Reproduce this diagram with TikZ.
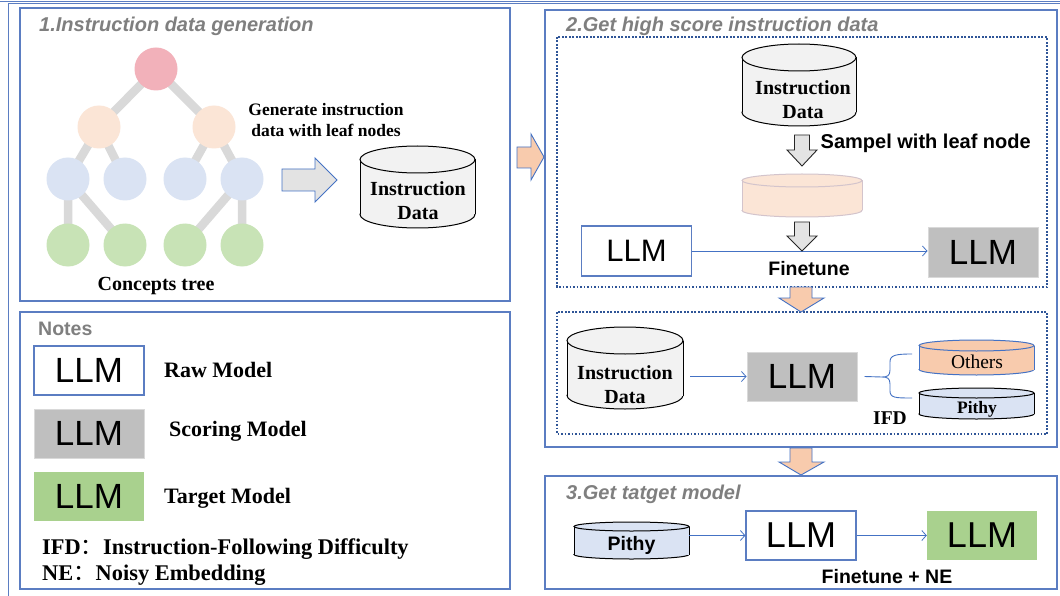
\documentclass[tikz,border=0pt]{standalone}
\usepackage{fontspec}
\setmainfont{Liberation Serif}
\setsansfont{Liberation Sans}
\newfontfamily\cjkfont{Noto Sans CJK SC}
\usetikzlibrary{arrows.meta,backgrounds}
\definecolor{frameblue}{HTML}{5B7DC2}
\definecolor{dotblue}{HTML}{2F5597}
\definecolor{connblue}{HTML}{4472C4}
\definecolor{titlegray}{HTML}{7F7F7F}
\definecolor{scoregray}{HTML}{BFBFBF}
\definecolor{targetgreen}{HTML}{A9D18E}
\definecolor{cylgray}{HTML}{F2F2F2}
\definecolor{arrgray}{HTML}{E3E3E3}
\definecolor{orangefill}{HTML}{F8CBAD}
\definecolor{lightorange}{HTML}{FBE5D6}
\definecolor{lightblue}{HTML}{DAE3F3}
\definecolor{treered}{HTML}{F2B1BA}
\definecolor{treegreen}{HTML}{C8E3B6}
\definecolor{edgegray}{HTML}{D9D9D9}
\definecolor{flatline}{HTML}{D3C4CC}

\newcommand{\dbcyl}[8]{% name, left, top, right, bottom, ry, fill, draw
  \filldraw[fill=#7,draw=#8,line width=1pt] ({(#2+#4)/2},#5-#6) ellipse [x radius={(#4-#2)/2}, y radius=#6];
  \fill[#7] (#2,#3+#6) rectangle (#4,#5-#6);
  \draw[#8,line width=1pt] (#2,#3+#6) -- (#2,#5-#6) (#4,#3+#6) -- (#4,#5-#6);
  \filldraw[fill=#7,draw=#8,line width=1pt] ({(#2+#4)/2},#3+#6) ellipse [x radius={(#4-#2)/2}, y radius=#6];
  \node[inner sep=0pt, minimum width={#4-#2}, minimum height={#5-#3}] (#1) at ({(#2+#4)/2},{(#3+#5)/2}) {};
}

\begin{document}
\begin{tikzpicture}[x=1pt,y=-1pt,
  frame/.style={draw=frameblue, line width=1.3pt},
  dotframe/.style={draw=dotblue, line width=1.8pt, dash pattern=on 1.8pt off 1.7pt},
  ttl/.style={anchor=base west, inner sep=0pt, text=titlegray, font=\sffamily\bfseries\itshape\fontsize{20}{24}\selectfont},
  llm/.style={minimum width=110pt, minimum height=49pt, inner sep=0pt, font=\sffamily\fontsize{35}{35}\selectfont},
  rawm/.style={llm, draw=frameblue, line width=1.2pt, fill=white},
  scorem/.style={llm, fill=scoregray, draw=scoregray!60!white, line width=1pt},
  targetm/.style={llm, fill=targetgreen},
  serifb/.style={inner sep=0pt, font=\bfseries\fontsize{#1}{#1}\selectfont},
  sansb/.style={inner sep=0pt, font=\sffamily\bfseries\fontsize{#1}{#1}\selectfont},
  tnode/.style={circle, minimum size=43pt, inner sep=0pt},
  tedge/.style={draw=edgegray, line width=8.5pt},
  grayarrow/.style={fill=arrgray, draw=black!85, line width=0.9pt, line join=miter},
  orangearrow/.style={fill=orangefill, draw=connblue, line width=0.9pt, line join=miter},
  conn/.style={draw=connblue, line width=0.8pt, -{Straight Barb[length=4.5pt,width=10pt]}},
  brace/.style={draw=connblue, line width=0.9pt}
]
\useasboundingbox (0,0) rectangle (1060,596);

% outer frame remnants
\draw[frameblue, line width=0.8pt] (0,1) -- (1060,1);
\draw[frameblue, line width=0.8pt] (8,3.5) -- (1060,3.5);
\draw[frameblue, line width=1pt] (8,3.5) -- (8,596);

% ---------- box 1 ----------
\draw[frame] (20,8) rectangle (510,301);
\node[ttl] (t1) at (39,31.5) {1.Instruction data generation};

\node[tnode, fill=treered] (r) at (156,69) {};
\node[tnode, fill=lightorange] (o1) at (99,127) {};
\node[tnode, fill=lightorange] (o2) at (214,127) {};
\node[tnode, fill=lightblue] (b1) at (68,179) {};
\node[tnode, fill=lightblue] (b2) at (125,179) {};
\node[tnode, fill=lightblue] (b3) at (185,179) {};
\node[tnode, fill=lightblue] (b4) at (242,179) {};
\node[tnode, fill=treegreen] (g1) at (68,245) {};
\node[tnode, fill=treegreen] (g2) at (125,245) {};
\node[tnode, fill=treegreen] (g3) at (185,245) {};
\node[tnode, fill=treegreen] (g4) at (242,245) {};
\begin{pgfonlayer}{background}
\fill[white] (0,0) rectangle (1060,596);
\draw[tedge] (r.center) -- (o1.center) (r.center) -- (o2.center)
  (o1.center) -- (b1.center) (o1.center) -- (b2.center) (o2.center) -- (b3.center) (o2.center) -- (b4.center)
  (b1.center) -- (g1.center) (b1.center) -- (g2.center) (b4.center) -- (g3.center) (b4.center) -- (g4.center);
\end{pgfonlayer}
\node[serifb=20, anchor=base] (ct) at (156,290) {Concepts tree};
\node[serifb=17.5, anchor=base] (gen1) at (326,115.5) {Generate instruction};
\node[serifb=17.5, anchor=base] (gen2) at (326,136.5) {data with leaf nodes};

\filldraw[fill=arrgray, draw=connblue, line width=0.9pt] (282,169) -- (315,169) -- (315,158) -- (337,180) -- (315,202) -- (315,191) -- (282,191) -- cycle;

\dbcyl{cylA}{360}{146}{475}{228}{13.5}{cylgray}{black}
\node[serifb=20, anchor=base] (cylAt1) at (418,196) {Instruction};
\node[serifb=20, anchor=base] (cylAt2) at (418,219.5) {Data};

% arrow between box1 and box2
\filldraw[orangearrow] (517,147) -- (531,147) -- (531,134) -- (544,157) -- (531,180) -- (531,168) -- (517,168) -- cycle;

% ---------- notes ----------
\draw[frame] (20,312) rectangle (510,589);
\node[anchor=base west, inner sep=0pt, text=titlegray, font=\sffamily\bfseries\fontsize{19.5}{22}\selectfont] (notes) at (38,335) {Notes};
\node[rawm] (nraw) at (89,370.5) {LLM};
\node[scorem] (nscore) at (89,433.5) {LLM};
\node[targetm] (ntarget) at (89,496.5) {LLM};
\node[serifb=22, anchor=base west] (lraw) at (164,377.3) {Raw Model};
\node[serifb=22, anchor=base west] (lscore) at (169,436.7) {Scoring Model};
\node[serifb=22, anchor=base west] (ltarget) at (164,503.3) {Target Model};
\node[serifb=22.4, anchor=base west] (lifd) at (42,554) {IFD{\cjkfont\mdseries ：}Instruction-Following Difficulty};
\node[serifb=22.4, anchor=base west] (lne) at (42,580.7) {NE{\cjkfont\mdseries ：}Noisy Embedding};

% ---------- box 2 ----------
\draw[frame] (545,10) rectangle (1057,447);
\node[ttl] (t2) at (566,31.5) {2.Get high score instruction data};
\draw[dotframe] (557,37) rectangle (1047,287);

\dbcyl{cylB}{742}{44}{856}{126}{13.5}{cylgray}{black}
\node[serifb=20, anchor=base] (cylBt1) at (803,95) {Instruction};
\node[serifb=20, anchor=base] (cylBt2) at (803,119) {Data};

\filldraw[grayarrow] (794.5,135) -- (809.5,135) -- (809.5,150) -- (817,150) -- (802,166) -- (787,150) -- (794.5,150) -- cycle;
\node[sansb=20, anchor=base west] (samp) at (820.5,149) {Sampel with leaf node};

\dbcyl{cylFlat}{742}{174}{862}{217}{6.5}{lightorange}{flatline}

\node[rawm, minimum height=50pt, font=\sffamily\fontsize{31}{31}\selectfont] (llmA) at (636.5,251) {LLM};
\node[scorem] (llmB) at (983,252.5) {LLM};
\draw[conn] (llmA.east) -- (llmA.east -| llmB.west);
\filldraw[grayarrow] (794.5,222) -- (809.5,222) -- (809.5,236) -- (817,236) -- (802,251) -- (787,236) -- (794.5,236) -- cycle;
\node[sansb=19.5, anchor=base] (ft) at (809,275.7) {Finetune};

\draw[dotframe] (557,312) rectangle (1047,434);
\filldraw[orangearrow] (790,287) -- (812,287) -- (812,298) -- (824,298) -- (801,312) -- (779,298) -- (790,298) -- cycle;

\dbcyl{cylC}{567}{327}{683}{409}{13.5}{cylgray}{black}
\node[serifb=20, anchor=base] (cylCt1) at (625,379.3) {Instruction};
\node[serifb=20, anchor=base] (cylCt2) at (625,403.3) {Data};
\node[scorem] (llmC) at (802,376.5) {LLM};
\draw[conn] ([xshift=7pt]cylC.east |- llmC.west) -- (llmC.west);

\coordinate (bt) at (882,377);
\draw[brace] ([xshift=7pt]llmC.east) -- (bt);
\draw[brace] (912,354) .. controls (896,354) and (890,355) .. (890,362) -- (890,370) .. controls (890,376) and (887,377) .. (bt)
  .. controls (887,377) and (890,378) .. (890,384) -- (890,391) .. controls (890,398) and (896,398) .. (912,398);

\dbcyl{cylOthers}{919}{340}{1034}{375}{5.5}{orangefill}{connblue}
\node[inner sep=0pt, anchor=base, font=\fontsize{19.5}{19.5}\selectfont] (oth) at (977,368.3) {Others};
\dbcyl{cylPithyA}{919}{388}{1034}{419}{5}{lightblue}{black}
\node[serifb=17.5, anchor=base] (pa) at (977,413.3) {Pithy};
\node[serifb=19.5, anchor=base] (ifd) at (890,424.3) {IFD};

% ---------- box 3 ----------
\filldraw[orangearrow] (790,448) -- (812,448) -- (812,462) -- (824,462) -- (801,475) -- (779,462) -- (790,462) -- cycle;
\draw[frame] (545,476) rectangle (1057,589);
\node[ttl] (t3) at (566,499) {3.Get tatget model};

\dbcyl{cylPithyB}{574}{522}{689}{559}{4.5}{lightblue}{black}
\node[sansb=19.5, anchor=base] (pb) at (631.5,550.7) {Pithy};
\node[rawm, font=\sffamily\fontsize{36}{36}\selectfont] (llmD) at (801,535.5) {LLM};
\node[targetm, font=\sffamily\fontsize{36}{36}\selectfont] (llmE) at (982,535) {LLM};
\draw[conn] (cylPithyB.east |- llmD.west) -- (llmD.west);
\draw[conn] (llmD.east) -- (llmD.east -| llmE.west);
\node[sansb=19.5, anchor=base] (ftne) at (887,583.3) {Finetune + NE};
\end{tikzpicture}
\end{document}
